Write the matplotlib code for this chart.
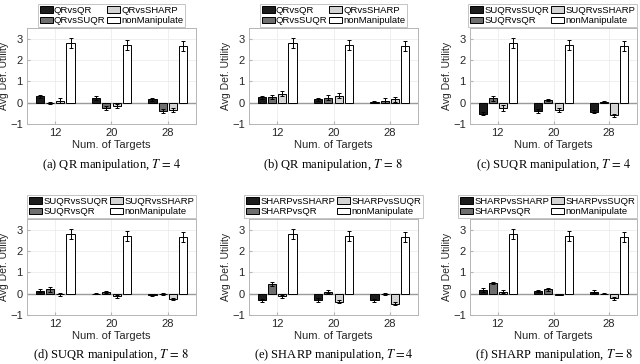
import matplotlib
matplotlib.use("Agg")
import matplotlib.pyplot as plt
import numpy as np

plt.rcParams['font.family'] = ['Liberation Sans', 'DejaVu Sans']
plt.rcParams['mathtext.fontset'] = 'stix'

targets = ['12', '20', '28']

# nonManipulate is the same in every panel
non_manip = [2.80, 2.70, 2.65]
non_manip_err = [0.25, 0.23, 0.22]

# (a) QR manipulation, T=4 : QRvsQR, QRvsSUQR, QRvsSHARP
a_labels = ['QRvsQR', 'QRvsSUQR', 'QRvsSHARP', 'nonManipulate']
a_means = [[0.30, 0.22, 0.15], [-0.03, -0.25, -0.40], [0.10, -0.15, -0.33]]
a_errs = [[0.07, 0.08, 0.05], [0.05, 0.10, 0.10], [0.10, 0.10, 0.10]]

# (b) QR manipulation, T=8
b_labels = ['QRvsQR', 'QRvsSUQR', 'QRvsSHARP', 'nonManipulate']
b_means = [[0.25, 0.15, 0.05], [0.27, 0.23, 0.10], [0.42, 0.32, 0.15]]
b_errs = [[0.07, 0.05, 0.03], [0.10, 0.12, 0.10], [0.12, 0.12, 0.10]]

# (c) SUQR manipulation, T=4
c_labels = ['SUQRvsSUQR', 'SUQRvsQR', 'SUQRvsSHARP', 'nonManipulate']
c_means = [[-0.52, -0.40, -0.42], [0.20, 0.12, 0.02], [-0.25, -0.35, -0.58]]
c_errs = [[0.06, 0.08, 0.08], [0.10, 0.05, 0.04], [0.12, 0.08, 0.07]]

# (d) SUQR manipulation, T=8
d_labels = ['SUQRvsSUQR', 'SUQRvsQR', 'SUQRvsSHARP', 'nonManipulate']
d_means = [[0.13, 0.00, -0.06], [0.20, 0.08, 0.00], [-0.03, -0.12, -0.25]]
d_errs = [[0.07, 0.03, 0.04], [0.10, 0.05, 0.04], [0.08, 0.06, 0.07]]

# (e) SHARP manipulation, T=4
e_labels = ['SHARPvsSHARP', 'SHARPvsQR', 'SHARPvsSUQR', 'nonManipulate']
e_means = [[-0.32, -0.28, -0.32], [0.45, 0.10, 0.00], [-0.12, -0.37, -0.47]]
e_errs = [[0.08, 0.10, 0.08], [0.10, 0.05, 0.05], [0.08, 0.08, 0.06]]

# (f) SHARP manipulation, T=8
f_labels = ['SHARPvsSHARP', 'SHARPvsQR', 'SHARPvsSUQR', 'nonManipulate']
f_means = [[0.18, 0.13, 0.10], [0.50, 0.20, 0.00], [0.10, -0.05, -0.22]]
f_errs = [[0.08, 0.06, 0.05], [0.07, 0.07, 0.03], [0.06, 0.03, 0.06]]

captions = ['(a) QR manipulation, $T\\,=\\,4$', '(b) QR manipulation, $T\\,=\\,8$',
            '(c) SUQR manipulation, $T\\,=\\,4$', '(d) SUQR manipulation, $T\\,=\\,8$',
            '(e) SHARP manipulation, $T = 4$', '(f) SHARP manipulation, $T = 8$']

bar_colors = ['#1c1c1c', '#6e6e6e', '#d4d4d4', '#ffffff']
offsets = [-0.273, -0.091, 0.091, 0.273]
bw = 0.145

W, H = 640, 364
fig = plt.figure(figsize=(6.4, 3.64), dpi=100)

# axes boxes in pixels: left, right, top, bottom
boxes = [(27, 196, 28, 124), (249, 418, 28, 124), (470, 637, 28, 124),
         (27, 196, 219, 315), (249, 418, 219, 315), (470, 637, 219, 315)]
panels = [(a_labels, a_means, a_errs), (b_labels, b_means, b_errs),
          (c_labels, c_means, c_errs), (d_labels, d_means, d_errs),
          (e_labels, e_means, e_errs), (f_labels, f_means, f_errs)]

x = np.arange(1, len(targets) + 1)
for k, ((labels, means, errs), (l, r, t, b)) in enumerate(zip(panels, boxes)):
    ax = fig.add_axes([l / W, 1 - b / H, (r - l) / W, (b - t) / H])
    series = means + [non_manip]
    series_err = errs + [non_manip_err]
    for i in range(4):
        ax.bar(x + offsets[i], series[i], bw, color=bar_colors[i],
               edgecolor='black', linewidth=0.7, label=labels[i], zorder=3)
        ax.errorbar(x + offsets[i], series[i], yerr=series_err[i], fmt='none',
                    ecolor='black', elinewidth=0.7, capsize=1.3, capthick=0.7, zorder=4)
    ax.axhline(0, color='#9a9a9a', linewidth=1.0, zorder=2)
    ax.set_xlim(0.5, 3.5)
    ax.set_ylim(-1, 3.5)
    ax.set_yticks([-1, 0, 1, 2, 3])
    ax.set_xticks(x)
    ax.set_xticklabels(targets)
    ax.grid(True, color='#ececec', linewidth=0.6)
    ax.set_axisbelow(True)
    for s in ax.spines.values():
        s.set_color('#b5b5b5')
        s.set_linewidth(0.7)
    ax.tick_params(direction='in', length=2, color='#b5b5b5', labelsize=8,
                   labelcolor='#262626', pad=3)
    ax.set_xlabel('Num. of Targets', fontsize=8, color='#262626', labelpad=1)
    ax.set_ylabel('Avg Def. Utility', fontsize=7.5, color='#262626', labelpad=1)
    if k % 3 == 2:
        loc, anchor = 'lower right', (1.0, 1.01)
    else:
        loc, anchor = 'lower center', (0.5, 1.01)
    leg = ax.legend(loc=loc, bbox_to_anchor=anchor, ncol=2,
                    fontsize=6.8, frameon=True, fancybox=False, borderpad=0.2,
                    handlelength=1.4, handleheight=0.7, handletextpad=0.1,
                    columnspacing=0.2, labelspacing=0.15, borderaxespad=0)
    leg.get_frame().set_edgecolor('#b5b5b5')
    leg.get_frame().set_linewidth(0.7)
    cy = 165 if k < 3 else 355
    fig.text((l + r) / 2 / W, 1 - cy / H, captions[k], ha='center', va='center',
             fontsize=9, family='Liberation Serif', color='black')

fig.savefig('out.png', dpi=100)
